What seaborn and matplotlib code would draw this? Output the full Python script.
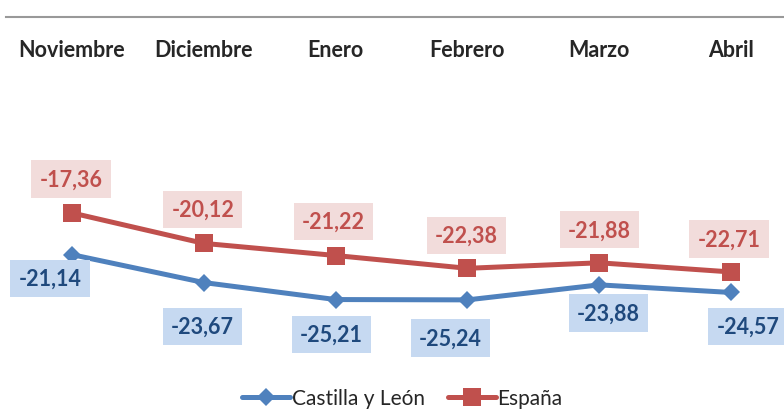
import matplotlib
matplotlib.use("Agg")
import matplotlib.pyplot as plt
import seaborn as sns
import pandas as pd

meses = ["Noviembre", "Diciembre", "Enero", "Febrero", "Marzo", "Abril"]
castilla = [-21.14, -23.67, -25.21, -25.24, -23.88, -24.57]
espana = [-17.36, -20.12, -21.22, -22.38, -21.88, -22.71]
series = ["Castilla y León", "España"]

# label offsets (pixels) relative to each point: layout only
off_castilla = [(-22, -24), (-1, -44), (-4, -35), (-17, -38), (9, -28), (17, -34)]
off_espana = [(-1, 34), (-1, 34), (-2, 34), (-1, 33), (0, 33), (-2, 33)]

sns.set_style("white")
plt.rcParams["font.family"] = ["Lato", "DejaVu Sans"]

df = pd.DataFrame({
    "mes": meses * 2,
    "valor": castilla + espana,
    "serie": [series[0]] * len(meses) + [series[1]] * len(meses),
})

blue, red = "#4F81BD", "#C0504D"
fig = plt.figure(figsize=(7.84, 4.14), dpi=100)
W, H = 784, 414
left_px, right_px = 6, 797
top_px, bottom_px = 18, 349
ax = fig.add_axes([left_px / W, (H - bottom_px) / H, (right_px - left_px) / W, (bottom_px - top_px) / H])

sns.lineplot(data=df, x="mes", y="valor", hue="serie", style="serie",
             markers={series[0]: "D", series[1]: "s"}, dashes=False,
             palette={series[0]: blue, series[1]: red}, linewidth=3.6,
             markeredgewidth=0, ax=ax, legend=True)

for line in ax.lines:
    if line.get_marker() == "D":
        line.set_markersize(8.8)
    elif line.get_marker() == "s":
        line.set_markersize(12.5)

ax.set_xlim(-0.5, len(meses) - 0.5)
ax.set_ylim(-29.6, 0.39)
ax.set_xlabel("")
ax.set_ylabel("")
ax.set_yticks([])
for s in ["left", "right", "bottom"]:
    ax.spines[s].set_visible(False)
ax.spines["top"].set_color("#999999")
ax.spines["top"].set_linewidth(1.5)
ax.tick_params(axis="x", top=False, bottom=False, labeltop=True, labelbottom=False,
               length=0, pad=-31)
for lbl in ax.get_xticklabels():
    lbl.set_fontweight("bold")
    lbl.set_fontsize(15.5)
    lbl.set_va("bottom")

def fmt(v):
    return f"{v:.2f}".replace(".", ",")

for vals, offs, fc, tc in [(castilla, off_castilla, "#C6D9F1", "#1F497D"),
                           (espana, off_espana, "#F2DCDB", red)]:
    for i, (v, (dx, dy)) in enumerate(zip(vals, offs)):
        ax.annotate(fmt(v), (i, v), xytext=(dx, dy), textcoords="offset pixels",
                    ha="center", va="center", fontsize=15.5, fontweight="bold", color=tc,
                    bbox=dict(boxstyle="square,pad=0.38", fc=fc, ec="none"),
                    annotation_clip=False)

handles, labels = ax.get_legend_handles_labels()
ax.get_legend().remove()
fig.legend(handles, labels, loc="center", bbox_to_anchor=(0.513, 0.036), ncol=2,
           frameon=False, fontsize=15, handlelength=2.3, handletextpad=0.1,
           columnspacing=1.1)

fig.savefig("out.png", dpi=100)
